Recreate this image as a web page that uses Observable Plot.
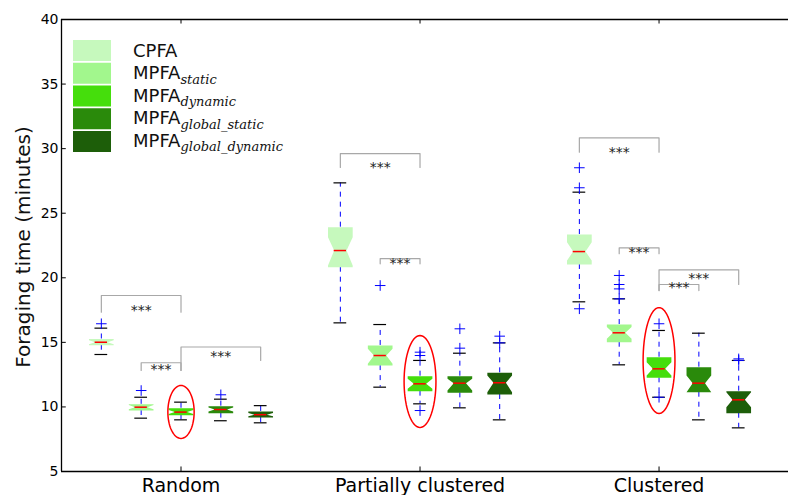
<!DOCTYPE html>
<html><head><meta charset="utf-8">
<script src="https://cdn.jsdelivr.net/npm/d3@7"></script>
<script src="https://cdn.jsdelivr.net/npm/@observablehq/plot@0.6"></script>
<style>body{margin:0;background:#fff;} svg{display:block;}</style>
</head><body><div id="chart"></div>
<script>
// ---- data ----
const groups = ["Random", "Partially clustered", "Clustered"];
const seriesNames = ["CPFA", "MPFA_static", "MPFA_dynamic", "MPFA_global_static", "MPFA_global_dynamic"];
const seriesColors = ["#c6f9bd", "#a2f78d", "#45de0c", "#2a8a0b", "#1d5e09"];
const yTicks = [5, 10, 15, 20, 25, 30, 35, 40];
// one value per box, group-major (Random x5, Partially clustered x5, Clustered x5)
const medians   = [15.01, 9.98, 9.60, 9.80, 9.40,  22.11, 13.98, 11.79, 11.84, 11.87,  22.03, 15.74, 12.95, 11.84, 10.55];
const q1        = [14.78, 9.72, 9.36, 9.52, 9.18,  20.82, 13.20, 11.22, 11.09, 10.96,  21.03, 15.01, 12.25, 11.14, 9.51];
const q3        = [15.26, 10.20, 9.90, 10.06, 9.65, 23.92, 14.76, 12.38, 12.38, 12.64,  23.35, 16.38, 13.85, 13.08, 11.22];
const notchLo   = [14.86, 9.82, 9.45, 9.65, 9.27,  20.95, 13.34, 11.40, 11.27, 11.14,  21.34, 15.28, 12.43, 11.14, 9.98];
const notchHi   = [15.17, 10.14, 9.76, 9.95, 9.53, 23.14, 14.50, 12.18, 12.18, 12.43,  22.76, 16.18, 13.46, 12.43, 11.14];
const whiskerLo = [14.06, 9.13, 9.00, 8.93, 8.77,  16.51, 11.53, 10.24, 9.93, 9.00,   18.14, 13.26, 10.75, 9.00, 8.38];
const whiskerHi = [16.10, 10.75, 10.37, 10.60, 10.10, 27.35, 16.38, 13.60, 14.16, 14.96, 26.63, 18.37, 15.92, 15.71, 13.60];
const outliers  = [[16.44], [11.27], [], [10.94], [],
                   [], [19.40], [14.24, 13.98, 9.72], [16.05, 14.55], [15.48, 14.96],
                   [28.52, 26.97, 17.60], [20.18, 19.48, 19.14, 18.37], [16.44, 10.75], [], [13.72, 13.60]];
// significance brackets (box positions 1..17)
const bracketFrom   = [1, 2, 3, 7, 8, 13, 14, 15, 15];
const bracketTo     = [3, 3, 5, 9, 9, 15, 15, 17, 16];
const bracketTop    = [18.63, 13.42, 14.64, 29.62, 21.49, 30.84, 22.32, 20.62, 19.48];
const bracketLegL   = [17.34, 12.82, 12.82, 28.54, 21.08, 29.73, 21.86, 19.01, 19.01];
const bracketLegR   = [17.34, 12.82, 13.60, 28.54, 21.08, 29.73, 21.86, 19.48, 19.01];
const starY         = [17.78, 13.21, 14.21, 28.85, 21.44, 29.99, 22.24, 20.25, 19.53];
// red highlight ellipses
const ellipsePos    = [3, 9, 15];
const ellipseCenter = [9.61, 11.97, 13.59];
const ellipseRx     = [0.33, 0.40, 0.40];
const ellipseRy     = [2.05, 3.56, 4.10];

// ---- derived tables ----
const rows = [];
groups.forEach((g, gi) => seriesNames.forEach((s, si) => {
  const i = gi * 5 + si;
  rows.push({pos: gi * 6 + si + 1, group: g, series: s, color: seriesColors[si],
    med: medians[i], q1: q1[i], q3: q3[i], nlo: notchLo[i], nhi: notchHi[i],
    wlo: whiskerLo[i], whi: whiskerHi[i], out: outliers[i]});
}));
const W = 0.62, CAP = 0.16;
function boxPoly(r) {
  const p = r.pos, h = W / 2, n = W / 4;
  return [[p-h, r.q1], [p+h, r.q1], [p+h, r.nlo], [p+n, r.med], [p+h, r.nhi], [p+h, r.q3],
          [p-h, r.q3], [p-h, r.nhi], [p-n, r.med], [p-h, r.nlo]].map(([x, y]) => ({x, y}));
}
const fliers = rows.flatMap(r => r.out.map(v => ({pos: r.pos, v})));
const brackets = bracketFrom.map((f, i) => ({id: i, from: f, to: bracketTo[i], top: bracketTop[i],
  legL: bracketLegL[i], legR: bracketLegR[i], sy: starY[i]}));
const bracketPts = brackets.flatMap(b => [
  {id: b.id, x: b.from, y: b.legL}, {id: b.id, x: b.from, y: b.top},
  {id: b.id, x: b.to, y: b.top}, {id: b.id, x: b.to, y: b.legR}]);
const ellipsePts = ellipsePos.flatMap((p, i) => d3.range(0, 73).map(k => {
  const t = k / 72 * 2 * Math.PI;
  return {id: i, x: p + ellipseRx[i] * Math.cos(t), y: ellipseCenter[i] + ellipseRy[i] * Math.sin(t)};
}));

const plot = Plot.plot({
  width: 788, height: 495,
  marginLeft: 61, marginRight: 0, marginTop: 19, marginBottom: 24,
  style: {fontFamily: "DejaVu Sans", background: "#fff"},
  x: {domain: [0, 18.25]},
  y: {domain: [5, 40]},
  marks: [
    // whiskers
    Plot.ruleX(rows, {x: "pos", y1: "q3", y2: "whi", stroke: "#0000ff", strokeDasharray: "5,5", strokeWidth: 1}),
    Plot.ruleX(rows, {x: "pos", y1: "q1", y2: "wlo", stroke: "#0000ff", strokeDasharray: "5,5", strokeWidth: 1}),
    // caps
    Plot.ruleY(rows, {y: "whi", x1: d => d.pos - CAP, x2: d => d.pos + CAP, stroke: "#000", strokeWidth: 1.2}),
    Plot.ruleY(rows, {y: "wlo", x1: d => d.pos - CAP, x2: d => d.pos + CAP, stroke: "#000", strokeWidth: 1.2}),
    // notched boxes
    ...rows.map(r => Plot.line(boxPoly(r), {x: "x", y: "y", fill: r.color, stroke: "none"})),
    // medians
    Plot.ruleY(rows, {y: "med", x1: d => d.pos - W / 4, x2: d => d.pos + W / 4, stroke: "#ff0000", strokeWidth: 1.5}),
    // fliers
    Plot.dot(fliers, {x: "pos", y: "v", symbol: "plus", r: 3.5, stroke: "#0000ff", strokeWidth: 1}),
    // brackets
    Plot.line(bracketPts, {x: "x", y: "y", z: "id", stroke: "#a8a8a8", strokeWidth: 1.2}),
    Plot.text(brackets, {x: d => (d.from + d.to) / 2, y: "sy", text: () => "***", fontSize: 14, fill: "#222", dy: 4}),
    // ellipses
    Plot.line(ellipsePts, {x: "x", y: "y", z: "id", stroke: "#ff0000", strokeWidth: 1.5}),
    // spines
    Plot.ruleX([0], {stroke: "#000", strokeWidth: 1.3}),
    Plot.ruleY([5], {stroke: "#000", strokeWidth: 1.3}),
    Plot.ruleY([40], {stroke: "#000", strokeWidth: 1.3}),
    // inner ticks
    Plot.ruleY(yTicks, {x1: 0, x2: 0.12, stroke: "#000"}),
    Plot.ruleX([3, 9, 15], {y1: 5, y2: 5.35, stroke: "#000"}),
    Plot.ruleX([3, 9, 15], {y1: 39.65, y2: 40, stroke: "#000"}),
    // axes
    Plot.axisY({ticks: yTicks, tickSize: 0, tickPadding: 3, fontSize: 14, tickFormat: d => String(d), label: null}),
    Plot.axisX({ticks: [3, 9, 15], tickSize: 0, tickPadding: 7, fontSize: 19, tickFormat: d => groups[(d - 3) / 6], label: null})
  ]
});

const svg = d3.select(plot);
svg.append("text")
  .attr("transform", "translate(30,247) rotate(-90)")
  .attr("text-anchor", "middle")
  .attr("font-family", "DejaVu Sans").attr("font-size", 20).attr("fill", "#111")
  .text("Foraging time (minutes)");

const lg = svg.append("g").attr("text-anchor", "start");
seriesNames.forEach((s, i) => {
  lg.append("rect").attr("x", 73).attr("y", 40 + i * 22.75).attr("width", 38).attr("height", 21)
    .attr("fill", seriesColors[i]);
  const idx = s.indexOf("_");
  const main = idx < 0 ? s : s.slice(0, idx);
  const sub = idx < 0 ? "" : s.slice(idx + 1);
  const t = lg.append("text").attr("x", 133).attr("y", 56.7 + i * 22.5).attr("text-anchor", "start")
    .attr("font-family", "DejaVu Sans").attr("font-size", 18).attr("fill", "#111");
  t.append("tspan").text(main);
  if (sub) t.append("tspan").attr("dy", 4.5).attr("font-family", "DejaVu Serif")
    .attr("font-style", "italic").attr("font-size", 13).text(sub);
});

document.getElementById("chart").appendChild(plot);
</script>
</body></html>
